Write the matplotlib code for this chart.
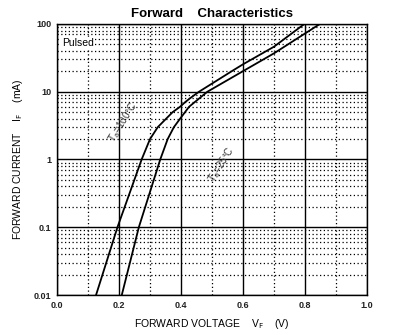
import matplotlib
matplotlib.use('Agg')
import matplotlib.pyplot as plt
from matplotlib.ticker import FixedLocator, FixedFormatter, LogLocator, NullFormatter

plt.rcParams['font.family'] = ['Liberation Sans', 'DejaVu Sans']

# curves (V in volts, I in mA)
v_100 = [0.126, 0.195, 0.273, 0.300, 0.325, 0.352, 0.373, 0.397, 0.413, 0.429, 0.458, 0.563, 0.60, 0.70, 0.798]
i_100 = [0.01, 0.1, 1, 2, 3, 4, 5, 6, 7, 8, 10, 20, 25.4, 46.2, 100]
v_25 = [0.209, 0.264, 0.333, 0.357, 0.377, 0.397, 0.413, 0.426, 0.485, 0.599, 0.70, 0.848]
i_25 = [0.01, 0.1, 1, 2, 3, 4, 5, 6, 10, 20, 36.9, 100]

x_ticks = [0.0, 0.2, 0.4, 0.6, 0.8, 1.0]
x_minor = [0.1, 0.3, 0.5, 0.7, 0.9]
y_ticks = [0.01, 0.1, 1, 10, 100]
y_labels = ['0.01', '0.1', '1', '10', '100']

fig = plt.figure(figsize=(4, 3.35), dpi=100)
ax = fig.add_axes([0.1425, 0.1194, 0.775, 0.809])

ax.plot(v_100, i_100, color='black', lw=1.3)
ax.plot(v_25, i_25, color='black', lw=1.3)

ax.set_yscale('log')
ax.set_xlim(0, 1)
ax.set_ylim(0.01, 100)

ax.xaxis.set_major_locator(FixedLocator(x_ticks))
ax.xaxis.set_minor_locator(FixedLocator(x_minor))
ax.set_xticklabels([f'{t:.1f}' for t in x_ticks])
ax.yaxis.set_major_locator(FixedLocator(y_ticks))
ax.yaxis.set_major_formatter(FixedFormatter(y_labels))
ax.yaxis.set_minor_locator(LogLocator(base=10, subs=range(2, 10)))
ax.yaxis.set_minor_formatter(NullFormatter())

ax.grid(which='major', color='black', lw=1.0, ls='-')
ax.grid(which='minor', color='black', lw=0.9, ls=(0, (1, 2)))
ax.set_axisbelow(True)
ax.tick_params(which='both', length=0, labelsize=6.5, pad=4)
for lab in ax.get_xticklabels() + ax.get_yticklabels():
    lab.set_fontweight('bold')
    lab.set_color('#222222')
for s in ax.spines.values():
    s.set_linewidth(1.0)

ax.set_title('Forward    Characteristics', fontsize=9.5, fontweight='bold', pad=5)
ax.set_xlabel(r'FORWARD VOLTAGE    V$_{\rm F}$    (V)', fontsize=7.5, labelpad=5)
ax.set_ylabel(r'FORWARD CURRENT    I$_{\rm F}$    (mA)', fontsize=7.5, labelpad=6)

ax.text(0.015, 0.95, 'Pulsed', transform=ax.transAxes, fontsize=7.5, va='top', ha='left',
        bbox=dict(facecolor='white', edgecolor='none', pad=0.5))
ax.text(0.213, 3.6, 'T$_{\\rm a}$=100°C', fontsize=7, rotation=58, ha='center', va='center',
        color='#333333')
ax.text(0.532, 0.83, 'T$_{\\rm a}$=25°C', fontsize=7, rotation=58, ha='center', va='center',
        color='#333333')

plt.savefig('out.png', dpi=100)
plt.close()
